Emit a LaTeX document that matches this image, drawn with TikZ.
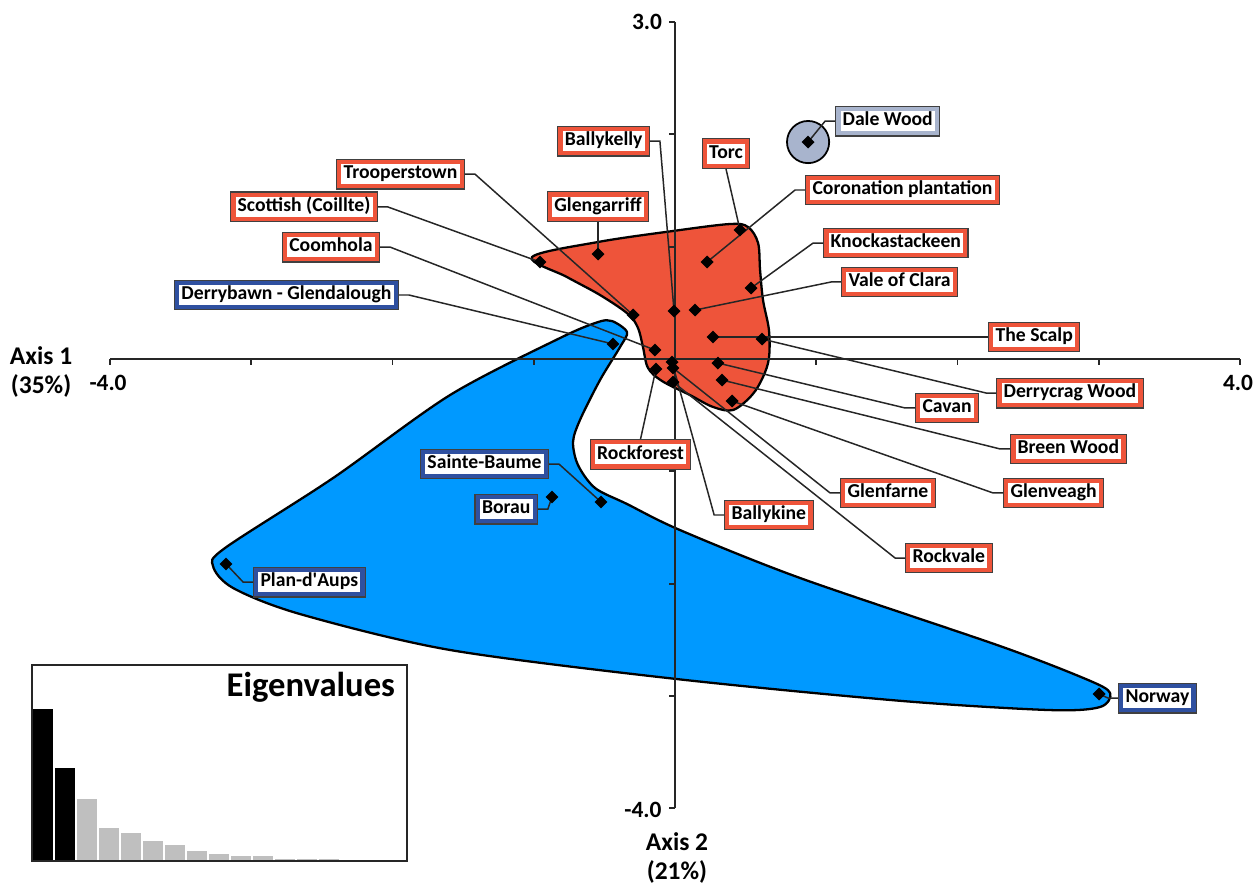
\documentclass[tikz,border=0pt]{standalone}
\usepackage{fontspec}
\setmainfont{Carlito}
\usetikzlibrary{positioning,shapes.geometric}
\definecolor{blobred}{RGB}{238,84,58}
\definecolor{blobblue}{RGB}{0,153,255}
\definecolor{siteblue}{RGB}{47,80,160}
\definecolor{sitegrey}{RGB}{168,180,205}
\definecolor{bargrey}{RGB}{191,191,191}

\begin{document}
\begin{tikzpicture}[x=2.825cm, y=2.246cm]
\tikzset{
    site/.style={draw=black!75, line width=0.6pt, fill=#1, font=\fontsize{11.2}{13}\selectfont\bfseries, inner xsep=4pt, inner ysep=0pt, minimum height=17pt, text height=8.2pt, text depth=2.6pt,
        path picture={\fill[white] ([shift={(2.8pt,2.8pt)}]path picture bounding box.south west) rectangle ([shift={(-2.8pt,-2.8pt)}]path picture bounding box.north east);}},
    redsite/.style={site=blobred},
    bluesite/.style={site=siteblue},
    spot/.style={diamond, fill=black, inner sep=0pt, minimum size=7.5pt},
    leader/.style={draw=black!85, line width=0.85pt},
    axis/.style={draw=black!85, line width=1.1pt},
    blob/.style={draw=black, line width=1.3pt},
    ticklab/.style={font=\fontsize{13.3}{15}\selectfont\bfseries},
    axlab/.style={font=\fontsize{14.5}{16.5}\selectfont\bfseries, align=center}
}
\useasboundingbox (-4.779,-4.684) rectangle (4.106,3.197);

% site scores
\foreach \n/\x/\y in {troop/-0.297/0.392, scot/-0.956/0.864, coom/-0.142/0.080, derryb/-0.439/0.134,
    bkelly/-0.007/0.427, glengar/-0.545/0.935, torc/0.460/1.149, coron/0.227/0.864, knock/0.538/0.632,
    vale/0.142/0.436, scalp/0.269/0.196, derryc/0.616/0.178, cavan/0.304/-0.036, breen/0.333/-0.187,
    glenv/0.404/-0.374, glenf/-0.014/-0.080, rockv/-0.014/-0.205, bkine/-0.021/-0.027, rockf/-0.135/-0.089,
    steb/-0.524/-1.273, borau/-0.871/-1.229, plan/-3.179/-1.825, norway/3.002/-2.983, dale/0.942/1.932}
    \coordinate (p-\n) at (\x,\y);

% groups
\draw[blob, fill=blobblue] plot[smooth cycle, tension=0.5] coordinates {
    (-0.446,0.338) (-0.340,0.240) (-0.389,0.107) (-0.531,-0.187) (-0.673,-0.543) (-0.722,-0.739)
    (-0.687,-0.944) (-0.566,-1.149) (-0.340,-1.291) (0.035,-1.523) (0.885,-1.950) (2.301,-2.556)
    (2.924,-2.858) (3.080,-2.974) (3.009,-3.099) (2.655,-3.126) (1.607,-3.045) (0.014,-2.850)
    (-1.593,-2.591) (-2.655,-2.271) (-3.129,-2.039) (-3.271,-1.843) (-3.186,-1.683) (-2.421,-1.060)
    (-1.593,-0.321) (-0.814,0.187) (-0.545,0.329)};
\draw[blob, fill=blobred] plot[smooth cycle, tension=0.55] coordinates {
    (-1.012,0.908) (-0.545,1.042) (-0.014,1.140) (0.389,1.202) (0.517,1.175) (0.588,1.033)
    (0.602,0.793) (0.623,0.525) (0.665,0.258) (0.665,0.009) (0.623,-0.160) (0.545,-0.321)
    (0.411,-0.454) (0.269,-0.427) (0.106,-0.321) (-0.092,-0.196) (-0.191,-0.080) (-0.227,0.107)
    (-0.262,0.276) (-0.333,0.401) (-0.531,0.570) (-0.765,0.730)};
\draw[blob, line width=1pt, fill=sitegrey] (p-dale) circle[radius=12pt];

% axes
\draw[axis] (-4,0) -- (4,0);
\foreach \i in {-4,...,4} \draw[axis] (\i,0) -- ++(0,-3.4pt);
\draw[axis] (0,3) -- (0,-4);
\foreach \j in {-4,...,3} \draw[axis] (0,\j) -- ++(-3.4pt,0);
\node[ticklab] (xmin) at (-4.014,-0.214) {-4.0};
\node[ticklab] (xmax) at (3.986,-0.214) {4.0};
\node[ticklab] (ymax) at (-0.198,3.001) {3.0};
\node[ticklab] (ymin) at (-0.227,-4.016) {-4.0};
\node[axlab] (ax1) at (-4.488,-0.116) {Axis 1\\(35\%)};
\node[axlab] (ax2) at (0.014,-4.444) {Axis 2\\(21\%)};

% labels
\node[redsite, anchor=east] (troop) at (-1.487,1.647) {Trooperstown};
\node[redsite, anchor=east] (scot) at (-2.103,1.354) {Scottish (Coillte)};
\node[redsite, anchor=east] (coom) at (-2.088,0.997) {Coomhola};
\node[bluesite, anchor=east] (derryb) at (-1.954,0.570) {Derrybawn - Glendalough};
\node[redsite, anchor=east] (bkelly) at (-0.177,1.941) {Ballykelly};
\node[bluesite, anchor=east] (steb) at (-0.892,-0.935) {Sainte-Baume};
\node[bluesite, anchor=east] (borau) at (-0.970,-1.336) {Borau};
\node[redsite, anchor=south] (glengar) at (-0.545,1.220) {Glengarriff};
\node[redsite, anchor=south] (torc) at (0.361,1.692) {Torc};
\node[redsite, anchor=north] (rockf) at (-0.244,-0.712) {Rockforest};
\node[redsite, anchor=west] (coron) at (0.920,1.505) {Coronation plantation};
\node[redsite, anchor=west] (knock) at (1.048,1.033) {Knockastackeen};
\node[redsite, anchor=west] (vale) at (1.175,0.686) {Vale of Clara};
\node[redsite, anchor=west] (scalp) at (2.216,0.196) {The Scalp};
\node[redsite, anchor=west] (derryc) at (2.273,-0.303) {Derrycrag Wood};
\node[redsite, anchor=west] (cavan) at (1.699,-0.436) {Cavan};
\node[redsite, anchor=west] (breen) at (2.372,-0.801) {Breen Wood};
\node[redsite, anchor=west] (glenv) at (2.322,-1.193) {Glenveagh};
\node[redsite, anchor=west] (glenf) at (1.168,-1.193) {Glenfarne};
\node[redsite, anchor=west] (rockv) at (1.628,-1.772) {Rockvale};
\node[redsite, anchor=west] (bkine) at (0.347,-1.389) {Ballykine};
\node[bluesite, anchor=west] (plan) at (-2.988,-1.986) {Plan-d\textquotesingle Aups};
\node[bluesite, anchor=west] (norway) at (3.136,-3.019) {Norway};
\node[site=sitegrey, anchor=west] (dale) at (1.133,2.119) {Dale Wood};

% leaders
\foreach \n in {troop,scot,coom,derryb,bkelly,steb,borau}
    \draw[leader] (\n.east) -- ++(0.07,0) -- (p-\n);
\foreach \n in {coron,knock,vale,derryc,cavan,breen,glenv,glenf,rockv,bkine,plan,norway,dale}
    \draw[leader] (\n.west) -- ++(-0.07,0) -- (p-\n);
\draw[leader] (glengar.south) -- (p-glengar);
\draw[leader] (torc.south) -- (p-torc);
\draw[leader] (rockf.north) -- (p-rockf);
\draw[leader] (scalp.west) -- (p-scalp);

\foreach \n in {troop,scot,coom,derryb,bkelly,glengar,torc,coron,knock,vale,scalp,derryc,cavan,breen,
    glenv,glenf,rockv,bkine,rockf,steb,borau,plan,norway,dale}
    \node[spot] (d-\n) at (p-\n) {};

% eigenvalues inset
\begin{scope}[shift={(-4.552,-4.470)}, x=0.02cm, y=0.02cm]
    \foreach \h [count=\i] in {152,93,62,33,28,20,16,10,7,5,5,2,2,1.5} {
        \ifnum\i<3 \def\barcol{black}\else\def\barcol{bargrey}\fi
        \fill[\barcol] ({1+22*(\i-1)},0) rectangle ++(20,\h);
    }
    \draw[line width=0.8pt, draw=black!85] (0,0) rectangle (375,196);
    \node[anchor=base east, font=\fontsize{19.7}{22}\selectfont\bfseries] (eigen) at (369,164) {Eigenvalues};
\end{scope}
\end{tikzpicture}
\end{document}
